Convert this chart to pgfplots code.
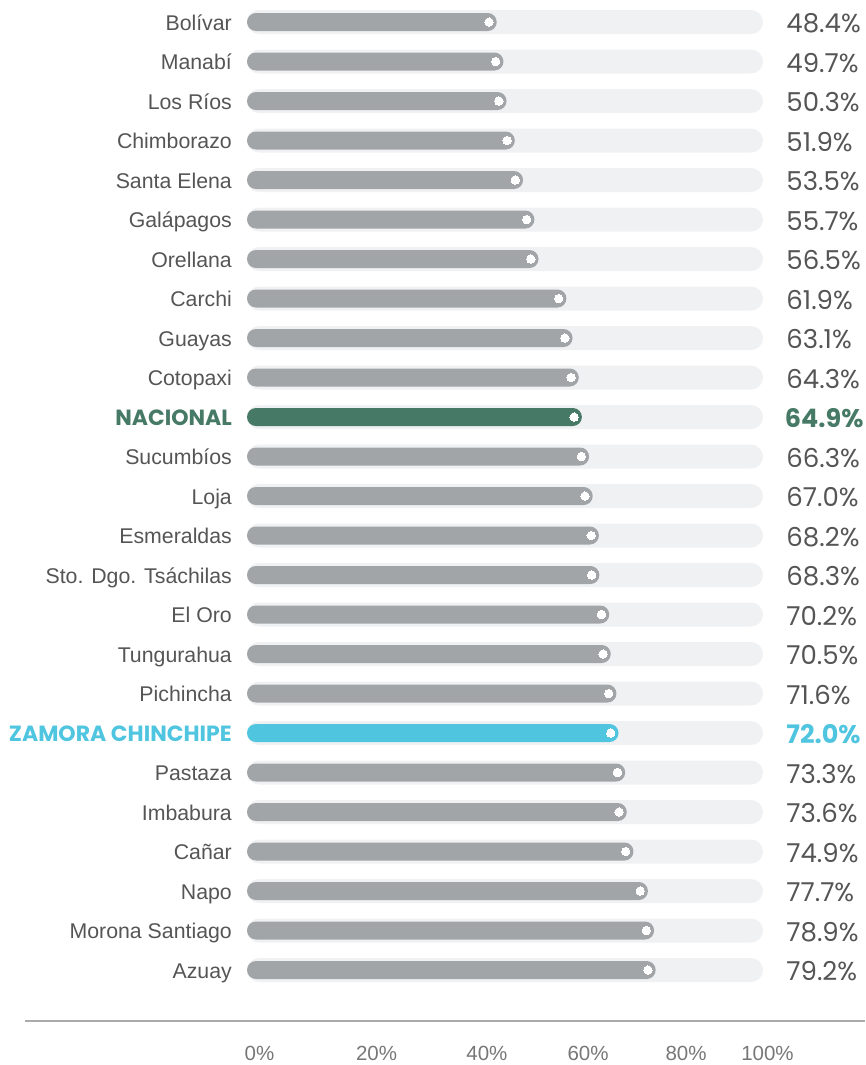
\documentclass[border=0pt]{standalone}
\usepackage{pgfplots}
\usepackage{pgfplotstable}
\pgfplotsset{compat=1.18}
\usepackage{fontspec}
\setmainfont{Liberation Sans}
\newfontfamily\pop{Poppins}

\definecolor{barGray}{HTML}{A2A5A8}
\definecolor{trackGray}{HTML}{F0F1F3}
\definecolor{txtGray}{HTML}{555555}
\definecolor{nacGreen}{HTML}{467966}
\definecolor{zamCyan}{HTML}{4FC5E0}
\definecolor{ruleGray}{HTML}{A9ABAD}
\tikzset{tick lab/.style={anchor=base, inner sep=0pt, text=txtGray!80,
  font=\fontsize{20.5}{20.5}\selectfont}}

% row = position from the top, v = percentage
\pgfplotstableread[col sep=comma]{
row,v,name
0,48.4,Bolívar
1,49.7,Manabí
2,50.3,Los Ríos
3,51.9,Chimborazo
4,53.5,Santa Elena
5,55.7,Galápagos
6,56.5,Orellana
7,61.9,Carchi
8,63.1,Guayas
9,64.3,Cotopaxi
11,66.3,Sucumbíos
12,67.0,Loja
13,68.2,Esmeraldas
14,68.3,Sto. Dgo. Tsáchilas
15,70.2,El Oro
16,70.5,Tungurahua
17,71.6,Pichincha
19,73.3,Pastaza
20,73.6,Imbabura
21,74.9,Cañar
22,77.7,Napo
23,78.9,Morona Santiago
24,79.2,Azuay
}\provs
\pgfplotstableread[col sep=comma]{
row,v,name
10,64.9,NACIONAL
}\nac
\pgfplotstableread[col sep=comma]{
row,v,name
18,72.0,ZAMORA CHINCHIPE
}\zam
\pgfplotstableread[col sep=comma]{
row,v
0,100
1,100
2,100
3,100
4,100
5,100
6,100
7,100
8,100
9,100
10,100
11,100
12,100
13,100
14,100
15,100
16,100
17,100
18,100
19,100
20,100
21,100
22,100
23,100
24,100
}\track

\begin{document}
\begin{tikzpicture}
\begin{axis}[
  scale only axis, width=865pt, height=1065pt,
  xmin=-47.868, xmax=119.767,
  ymin=-0.557, ymax=26.405, y dir=reverse,
  hide axis, clip=false,
  xbar, bar shift=0pt,
  name label/.style={draw=none, mark=none, xbar=false,
    nodes near coords, point meta=explicit symbolic,
    every node near coord/.append style={anchor=base east, yshift=-8pt, inner sep=0pt}},
  value label/.style={draw=none, mark=none, xbar=false,
    nodes near coords={\pgfplotspointmeta\%}, point meta=explicit symbolic,
    every node near coord/.append style={anchor=base west, yshift=-10.5pt, inner sep=0pt}},
  end dot/.style={white, xbar=false, only marks, mark=*, mark size=4.2pt,
    mark options={fill=white, draw=white, line width=0pt}},
]
% background tracks
\addplot[fill=trackGray, draw=none, bar width=24pt, rounded corners=12pt]
  table[x=v, y=row] {\track};
% value bars
\addplot[fill=barGray, draw=none, bar width=18pt, rounded corners=9pt]
  table[x=v, y=row] {\provs};
\addplot[fill=nacGreen, draw=none, bar width=18pt, rounded corners=9pt]
  table[x=v, y=row] {\nac};
\addplot[fill=zamCyan, draw=none, bar width=18pt, rounded corners=9pt]
  table[x=v, y=row] {\zam};
% white end dots
\addplot[end dot] table[x expr=\thisrow{v}-1.5, y=row] {\provs};
\addplot[end dot] table[x expr=\thisrow{v}-1.5, y=row] {\nac};
\addplot[end dot] table[x expr=\thisrow{v}-1.5, y=row] {\zam};
% category names
\addplot[name label, every node near coord/.append style={font=\fontsize{21.3}{21.3}\selectfont, text=txtGray}]
  table[x expr=-2.9, y=row, meta=name] {\provs};
\addplot[name label, every node near coord/.append style={font=\pop\bfseries\fontsize{22}{22}\selectfont, text=nacGreen}]
  table[x expr=-2.9, y=row, meta=name] {\nac};
\addplot[name label, every node near coord/.append style={font=\pop\bfseries\fontsize{22}{22}\selectfont, text=zamCyan}]
  table[x expr=-2.9, y=row, meta=name] {\zam};
% value labels
\addplot[value label, every node near coord/.append style={font=\pop\fontsize{26}{26}\selectfont, text=txtGray}]
  table[x expr=104.5, y=row, meta=v] {\provs};
\addplot[value label, every node near coord/.append style={font=\pop\bfseries\fontsize{25.5}{25.5}\selectfont, text=nacGreen}]
  table[x expr=104.2, y=row, meta=v] {\nac};
\addplot[value label, every node near coord/.append style={font=\pop\bfseries\fontsize{25.5}{25.5}\selectfont, text=zamCyan}]
  table[x expr=104.5, y=row, meta=v] {\zam};
% rule and the percentage scale below it
\draw[ruleGray, line width=1.5pt] (axis cs:-43.02,25.29) -- (axis cs:119.767,25.29);
\node[tick lab] at (axis cs:2.42,26.29) {0\%};
\node[tick lab] at (axis cs:25.1,26.29) {20\%};
\node[tick lab] at (axis cs:46.5,26.29) {40\%};
\node[tick lab] at (axis cs:66.1,26.29) {60\%};
\node[tick lab] at (axis cs:85.08,26.29) {80\%};
\node[tick lab] at (axis cs:100.87,26.29) {100\%};
\end{axis}
\pgfresetboundingbox
\path (0,0) rectangle (865pt,1065pt);
\end{tikzpicture}
\end{document}
